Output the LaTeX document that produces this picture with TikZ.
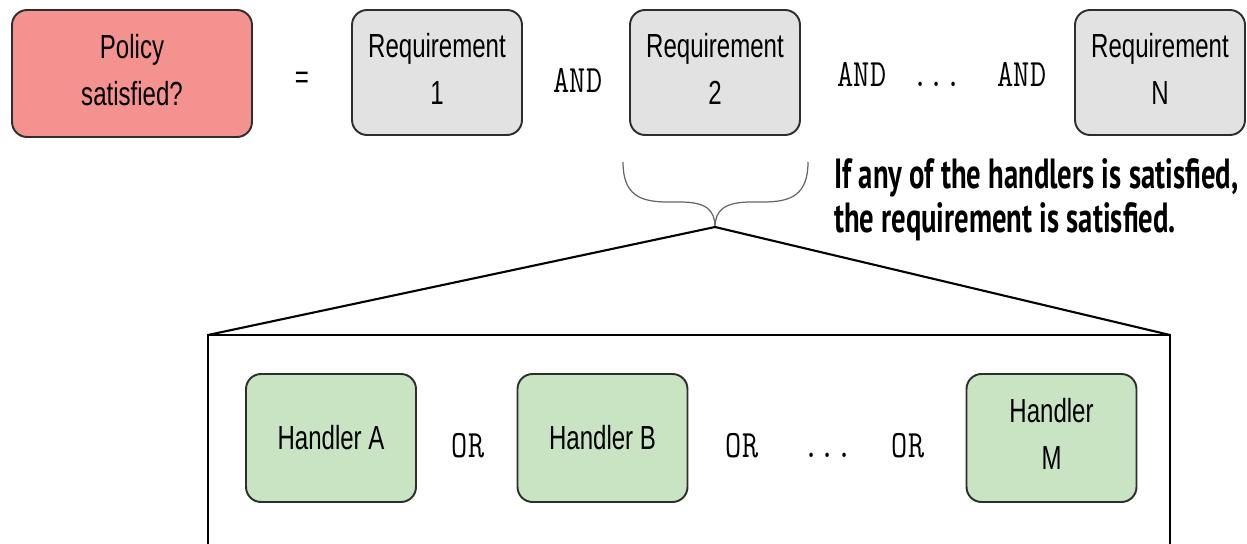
\documentclass[tikz,border=0pt]{standalone}
\usepackage{fontspec}
\setmainfont{Liberation Sans}
\setmonofont{Latin Modern Mono}[FakeStretch=0.81]
\newfontfamily\boxfont{Liberation Sans}[FakeStretch=0.72]
\newfontfamily\notefont{PT Sans}[FakeStretch=0.68]
\usepackage{xcolor}
\definecolor{policyred}{HTML}{F4928F}
\definecolor{reqgray}{HTML}{E1E2E1}
\definecolor{handlergreen}{HTML}{C8E4C3}
\definecolor{bordergray}{HTML}{2E2E2E}

\begin{document}
\begin{tikzpicture}[
    x=0.02cm, y=-0.02cm,
    box/.style={draw=bordergray, line width=1.1pt, rounded corners=0.3cm, align=center,
                minimum width=3.4cm, minimum height=2.5cm, inner sep=2pt,
                font=\boxfont\fontsize{19}{26.6}\selectfont},
    twoline/.style={text depth=4.5pt},
    policybox/.style={box, twoline, fill=policyred, minimum width=4.8cm, minimum height=2.54cm},
    reqbox/.style={box, twoline, fill=reqgray},
    handlerbox/.style={box, fill=handlergreen, minimum height=2.56cm},
    op/.style={anchor=base, font=\ttfamily\fontsize{22}{24}\selectfont},
  ]
    \useasboundingbox (0,0) rectangle (1247,544);

    % 顶行
    \node[policybox] (policy) at (132, 73.5) {Policy\\satisfied?};
    \node[font=\boxfont\fontsize{19}{24}\selectfont] (eq) at (302, 80) {=};
    \node[reqbox] (req1) at (437, 72.5) {Requirement\\1};
    \node[op] (and1) at (578, 92) {AND};
    \node[reqbox] (req2) at (715, 72.5) {Requirement\\2};
    \node[op] (and2) at (862, 87) {AND};
    \node[op] (dots1) at (937, 87) {...};
    \node[op] (and3) at (1022, 87) {AND};
    \node[reqbox] (reqN) at (1160, 72.5) {Requirement\\N};

    % 说明
    \node[anchor=west, align=left, font=\notefont\bfseries\fontsize{24}{25}\selectfont]
      (note) at (828, 200) {If any of the handlers is satisfied,\\the requirement is satisfied.};

    % 花括号
    \coordinate (tip) at (715, 227);
    \draw[gray!80!black, line width=0.7pt]
      (623, 162) .. controls (623, 195) and (640, 202) .. (668, 202)
      -- (680, 202) .. controls (706, 202) and (715, 210) .. (tip);
    \draw[gray!80!black, line width=0.7pt]
      (808, 162) .. controls (808, 195) and (791, 202) .. (763, 202)
      -- (751, 202) .. controls (725, 202) and (715, 210) .. (tip);

    % 展开框
    \coordinate (boxtl) at (208, 335);
    \coordinate (boxtr) at (1170, 335);
    \draw[line width=1.2pt] (tip) -- (boxtl);
    \draw[line width=1.2pt] (tip) -- (boxtr);
    \draw[line width=1.3pt] (208, 560) -- (boxtl) -- (boxtr) -- (1170, 560);

    % 处理器
    \node[handlerbox] (handlerA) at (331, 438) {Handler A};
    \node[op] (or1) at (468, 457) {OR};
    \node[handlerbox] (handlerB) at (602.5, 438) {Handler B};
    \node[op] (or2) at (742, 457) {OR};
    \node[op] (dots2) at (828, 457) {...};
    \node[op] (or3) at (908, 457) {OR};
    \node[handlerbox, twoline] (handlerM) at (1051.5, 438) {Handler\\M};
  \end{tikzpicture}
\end{document}
